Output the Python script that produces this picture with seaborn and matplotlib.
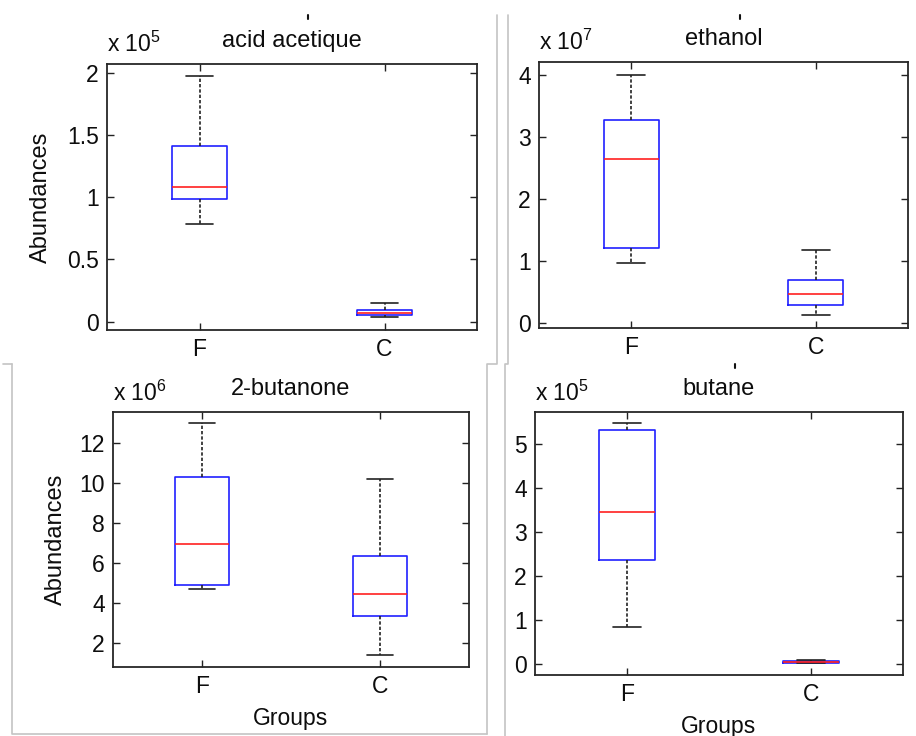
import numpy as np
import pandas as pd
import seaborn as sns
import matplotlib.pyplot as plt
from matplotlib.lines import Line2D

# five-number summaries: [min, q1, median, q3, max]
groups = ["F", "C"]

acid_F = [0.784, 0.983, 1.084, 1.411, 1.973]      # x 1e5
acid_C = [0.035, 0.054, 0.067, 0.094, 0.153]

ethanol_F = [0.969, 1.206, 2.649, 3.273, 4.0]     # x 1e7
ethanol_C = [0.124, 0.285, 0.468, 0.700, 1.184]

butanone_F = [4.68, 4.9, 6.95, 10.3, 13.0]        # x 1e6
butanone_C = [1.38, 3.35, 4.43, 6.35, 10.18]

butane_F = [0.84, 2.37, 3.45, 5.33, 5.48]         # x 1e5
butane_C = [0.01, 0.025, 0.045, 0.06, 0.08]

titles = ["acid acetique", "ethanol", "2-butanone", "butane"]
exponents = [5, 7, 6, 5]
yticks = [[0, 0.5, 1, 1.5, 2], [0, 1, 2, 3, 4], [2, 4, 6, 8, 10, 12], [0, 1, 2, 3, 4, 5]]
yticklabels = [["0", "0.5", "1", "1.5", "2"], ["0", "1", "2", "3", "4"],
               ["2", "4", "6", "8", "10", "12"], ["0", "1", "2", "3", "4", "5"]]
ylims = [(-0.067, 2.07), (-0.081, 4.215), (0.783, 13.55), (-0.258, 5.737)]

series = [(acid_F, acid_C), (ethanol_F, ethanol_C), (butanone_F, butanone_C), (butane_F, butane_C)]

sns.set_theme(style="white")
plt.rcParams['font.family'] = ['Liberation Sans', 'DejaVu Sans']

W, H = 916, 736
fig = plt.figure(figsize=(W / 100, H / 100), dpi=100)

# axes boxes in pixels: left, top, right, bottom
boxes = [(107, 64, 477, 330), (539, 62, 908, 328), (113, 412, 469, 667), (535, 412, 903, 675)]

FS = 16.5
TXT = "#0d0d0d"

for i, (l, t, r, b) in enumerate(boxes):
    ax = fig.add_axes([l / W, 1 - b / H, (r - l) / W, (b - t) / H])
    f_vals, c_vals = series[i]
    df = pd.DataFrame({"group": ["F"] * len(f_vals) + ["C"] * len(c_vals),
                       "value": f_vals + c_vals})
    sns.boxplot(data=df, x="group", y="value", order=groups, ax=ax,
                fill=False, color="blue", width=0.3, whis=(0, 100), linewidth=1.2,
                boxprops=dict(color="#2020ff"),
                medianprops=dict(color="#ff2020"),
                whiskerprops=dict(color="#222222", linestyle=(0, (2, 1.2))),
                capprops=dict(color="#222222"))
    ax.set_xlim(-0.5, 1.5)
    ax.set_ylim(*ylims[i])
    ax.set_yticks(yticks[i])
    ax.set_yticklabels(yticklabels[i])
    ax.tick_params(direction="in", length=5, width=1, colors="#222222",
                   labelsize=FS, labelcolor=TXT, top=True, right=True,
                   bottom=True, left=True, pad=6)
    for s in ax.spines.values():
        s.set_color("#262626")
        s.set_linewidth(1.3)
        s.set_visible(True)
    ax.set_title(titles[i], fontsize=FS + 0.5, pad=12, color=TXT)
    ax.text(0, 1.025, r"x 10$^{\mathregular{%d}}$" % exponents[i], transform=ax.transAxes,
            fontsize=FS, ha="left", va="bottom", color=TXT)
    if i in (0, 2):
        ax.set_ylabel("Abundances", fontsize=FS + 0.5, color=TXT)
        ax.yaxis.set_label_coords(-0.149 if i == 0 else -0.129, 0.5)
    else:
        ax.set_ylabel("")
    if i in (2, 3):
        ax.set_xlabel("Groups", fontsize=FS, color=TXT)
        ax.xaxis.set_label_coords(0.5, -40 / (b - t))
    else:
        ax.set_xlabel("")

# screenshot borders
gray = "#c4c4c4"
def seg(xs, ys):
    fig.add_artist(Line2D([x / W for x in xs], [1 - y / H for y in ys], color=gray, lw=1.2))

seg([497, 497, 487, 487], [15, 364, 364, 734])
seg([508, 508, 505, 505], [15, 364, 364, 736])
seg([12, 12, 487], [364, 734, 734])
seg([3, 12], [364, 364])

# small specks above the titles
for x, y in [(308, 17), (740, 17), (735, 366)]:
    fig.add_artist(Line2D([x / W, x / W], [1 - (y - 2) / H, 1 - (y + 2) / H], color="#111111", lw=1.5))

fig.savefig("out.png", dpi=100)
